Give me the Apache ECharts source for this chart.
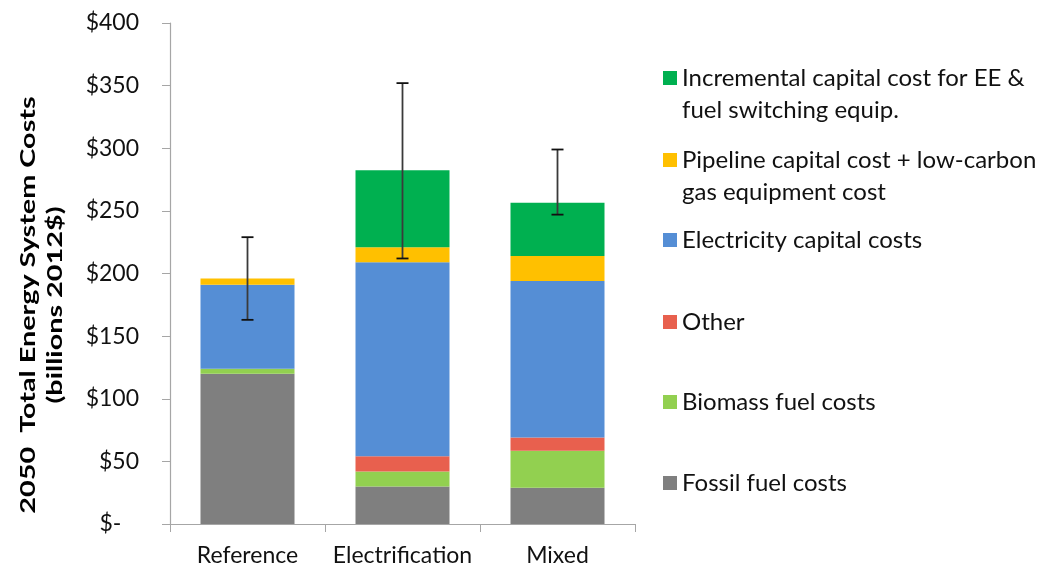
<!DOCTYPE html>
<html>
<head>
<meta charset="utf-8">
<script src="https://cdn.jsdelivr.net/npm/echarts@6/dist/echarts.min.js"></script>
<style>
  html, body { margin: 0; padding: 0; background: #fff; }
  #chart { width: 1057px; height: 569px; }
</style>
</head>
<body>
<div id="chart"></div>
<script>
// categories + stacked series (billions 2012$), bottom to top
var categories = ['Reference', 'Electrification', 'Mixed'];
var fossil = [120, 30, 29];
var biomass = [4, 12, 29.5];
var other = [0, 12, 10.5];
var electricity = [67, 155, 125];
var pipeline = [5, 12, 20];
var incremental = [0, 61.5, 42.5];
// error bar range
var errLow = [163, 212, 247];
var errHigh = [229, 352, 299];
var yTicks = [0, 50, 100, 150, 200, 250, 300, 350, 400];

var names = [
  'Fossil fuel costs',
  'Biomass fuel costs',
  'Other',
  'Electricity capital costs',
  'Pipeline capital cost + low-carbon',
  'Incremental capital cost for EE &'
];
var colors = ['#7f7f7f', '#92d050', '#e8604e', '#558ed5', '#ffc000', '#00b050'];
var values = [fossil, biomass, other, electricity, pipeline, incremental];
// legend marker centre y for each item (same order as names)
var legendY = [483, 402, 322, 240, 160, 78];

var font = 'Lato';
var chart = echarts.init(document.getElementById('chart'));

var series = names.map(function (n, i) {
  return {
    name: n,
    type: 'bar',
    stack: 'total',
    barWidth: 94,
    itemStyle: { color: colors[i] },
    data: values[i]
  };
});

var errData = categories.map(function (c, i) {
  return [i, errLow[i], errHigh[i]];
});

series.push({
  type: 'custom',
  z: 10,
  silent: true,
  encode: { x: 0, y: [1, 2] },
  data: errData,
  renderItem: function (params, api) {
    var lo = api.coord([api.value(0), api.value(1)]);
    var hi = api.coord([api.value(0), api.value(2)]);
    var hw = 6;
    return {
      type: 'group',
      children: [
        { type: 'line', shape: { x1: lo[0], y1: lo[1], x2: hi[0], y2: hi[1] }, style: { stroke: '#3a3a3a', lineWidth: 1.8 } },
        { type: 'line', shape: { x1: lo[0] - hw, y1: lo[1], x2: lo[0] + hw, y2: lo[1] }, style: { stroke: '#111', lineWidth: 1.8 } },
        { type: 'line', shape: { x1: hi[0] - hw, y1: hi[1], x2: hi[0] + hw, y2: hi[1] }, style: { stroke: '#111', lineWidth: 1.8 } }
      ]
    };
  }
});

var legends = names.map(function (n, i) {
  return {
    data: [n],
    left: 663,
    top: legendY[i] - 13,
    padding: 0,
    itemWidth: 14,
    itemHeight: 14,
    icon: 'rect',
    selectedMode: false,
    textStyle: { fontFamily: font, fontSize: 24, color: '#111', lineHeight: 26 }
  };
});

var option = {
  animation: false,
  legend: legends,
  grid: { left: 170, right: 422, top: 23, bottom: 45 },
  xAxis: {
    type: 'category',
    data: categories,
    axisLine: { lineStyle: { color: '#a6a6a6', width: 1.2 } },
    axisTick: { show: true, length: 8, lineStyle: { color: '#a6a6a6' } },
    axisLabel: { interval: 0, fontFamily: font, fontSize: 23, color: '#111', margin: 20 }
  },
  yAxis: {
    type: 'value',
    min: yTicks[0],
    max: yTicks[yTicks.length - 1],
    interval: 50,
    splitLine: { show: false },
    axisLine: { show: true, lineStyle: { color: '#a6a6a6', width: 1.2 } },
    axisTick: { show: true, length: 8, lineStyle: { color: '#a6a6a6' } },
    axisLabel: {
      fontFamily: font, fontSize: 23, color: '#111', margin: 31,
      formatter: function (v) { return v === 0 ? '$-   ' : '$' + v; }
    }
  },
  graphic: [
    {
      type: 'text', x: 28, y: 305, rotation: Math.PI / 2, scaleX: 1.34,
      style: { text: '2050  Total Energy System Costs', fontFamily: font, fontWeight: 'bold', fontSize: 21.5, fill: '#000', align: 'center', verticalAlign: 'middle' }
    },
    {
      type: 'text', x: 55, y: 305, rotation: Math.PI / 2, scaleX: 1.34,
      style: { text: '(billions 2012$)', fontFamily: font, fontWeight: 'bold', fontSize: 21.5, fill: '#000', align: 'center', verticalAlign: 'middle' }
    },
    {
      type: 'text', x: 682, y: 110,
      style: { text: 'fuel switching equip.', fontFamily: font, fontSize: 24, fill: '#111', align: 'left', verticalAlign: 'middle' }
    },
    {
      type: 'text', x: 682, y: 192,
      style: { text: 'gas equipment cost', fontFamily: font, fontSize: 24, fill: '#111', align: 'left', verticalAlign: 'middle' }
    }
  ],
  series: series
};

chart.setOption(option);
</script>
</body>
</html>
